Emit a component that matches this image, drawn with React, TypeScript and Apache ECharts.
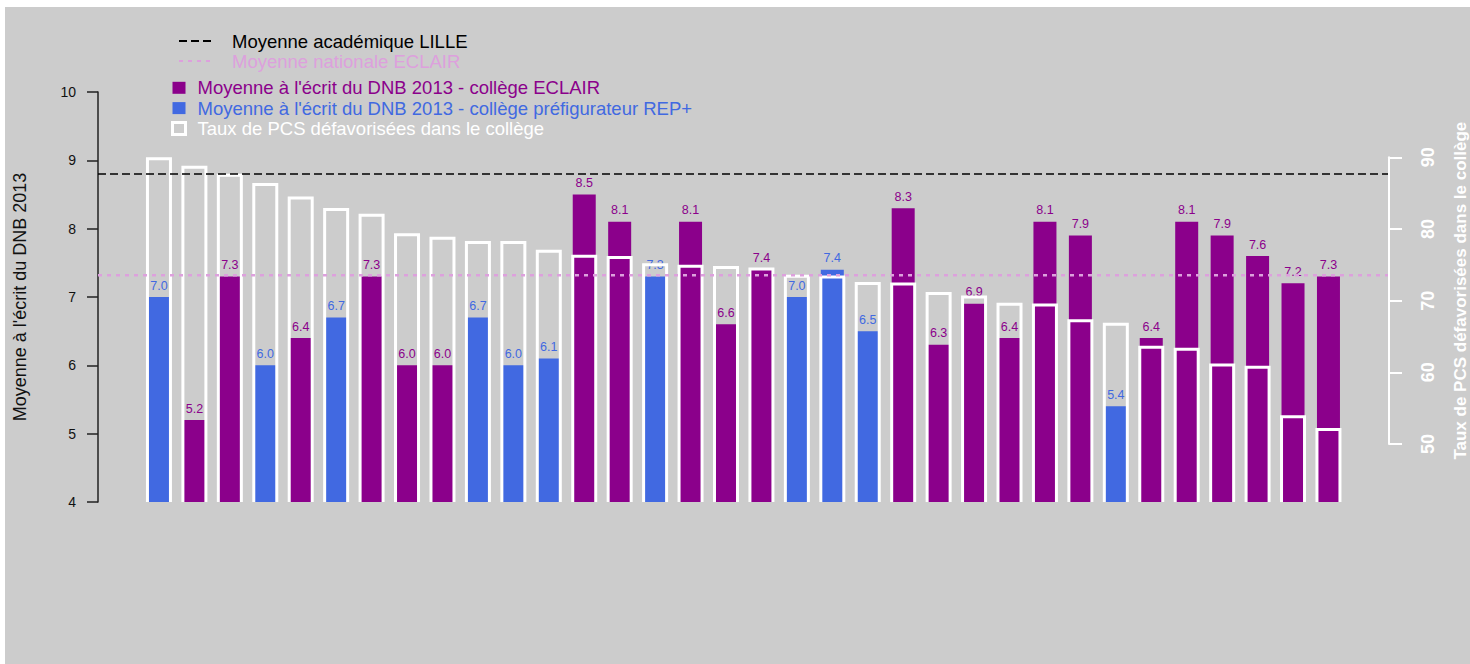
import React, { useEffect, useRef } from 'react';
import * as echarts from 'echarts';

// ---------- data ----------
const dnbScores = [7.0, 5.2, 7.3, 6.0, 6.4, 6.7, 7.3, 6.0, 6.0, 6.7, 6.0, 6.1, 8.5, 8.1, 7.3, 8.1, 6.6, 7.4, 7.0, 7.4, 6.5, 8.3, 6.3, 6.9, 6.4, 8.1, 7.9, 5.4, 6.4, 8.1, 7.9, 7.6, 7.2, 7.3];
const collegeTypes = ['REP+', 'ECLAIR', 'ECLAIR', 'REP+', 'ECLAIR', 'REP+', 'ECLAIR', 'ECLAIR', 'ECLAIR', 'REP+', 'REP+', 'REP+', 'ECLAIR', 'ECLAIR', 'REP+', 'ECLAIR', 'ECLAIR', 'ECLAIR', 'REP+', 'REP+', 'REP+', 'ECLAIR', 'ECLAIR', 'ECLAIR', 'ECLAIR', 'ECLAIR', 'ECLAIR', 'REP+', 'ECLAIR', 'ECLAIR', 'ECLAIR', 'ECLAIR', 'ECLAIR', 'ECLAIR'];
const pcsRates = [89.8, 88.6, 87.5, 86.2, 84.3, 82.7, 81.9, 79.2, 78.7, 78.1, 78.1, 76.9, 76.2, 76.0, 75.0, 74.8, 74.6, 74.4, 73.4, 73.3, 72.4, 72.3, 71.0, 70.5, 69.5, 69.4, 67.2, 66.7, 63.5, 63.2, 61.0, 60.7, 53.8, 52.0];
const moyenneLille = 8.8;
const moyenneNationaleEclair = 7.32;
const leftTicks = [4, 5, 6, 7, 8, 9, 10];
const rightTicks = [50, 60, 70, 80, 90];

const NAME_LILLE = 'Moyenne académique LILLE';
const NAME_NAT = 'Moyenne nationale ECLAIR';
const NAME_ECLAIR = "Moyenne à l'écrit du DNB 2013 - collège ECLAIR";
const NAME_REP = "Moyenne à l'écrit du DNB 2013 - collège préfigurateur REP+";
const NAME_PCS = 'Taux de PCS défavorisées dans le collège';

const PURPLE = '#8B008B';
const BLUE = '#4169E1';
const PLUM = '#DDA0DD';
const FONT = '"Liberation Sans", Arial, Helvetica, sans-serif';

const X_MIN = -0.72;
const X_MAX = 35.68;
const PCS_MIN = 41.9;
const PCS_MAX = 99.1;
const BAR_W = 23;

export default function App() {
  const ref = useRef<HTMLDivElement>(null);

  useEffect(() => {
    if (!ref.current) return;
    const chart = echarts.init(ref.current, null, { renderer: 'svg' });

    const eclairData: number[][] = [];
    const repData: number[][] = [];
    dnbScores.forEach((v, i) => {
      if (collegeTypes[i] === 'REP+') repData.push([i + 1, v]);
      else eclairData.push([i + 1, v]);
    });
    const pcsData = pcsRates.map((v, i) => [i + 1, v]);

    const barLabel = (color: string) => ({
      show: true,
      position: 'top',
      distance: 5,
      color,
      fontSize: 12.5,
      fontFamily: FONT,
      formatter: (p: any) => Number(p.value[1]).toFixed(1),
    });

    const option: any = {
      animation: false,
      backgroundColor: '#CCCCCC',
      textStyle: { fontFamily: FONT },
      grid: [
        { left: 93, right: 82, top: 85, bottom: 162, outerBoundsMode: 'none', containLabel: false },
        { left: 93, right: 81, top: 150.3, bottom: 220, outerBoundsMode: 'none', containLabel: false },
      ],
      legend: [
        {
          orient: 'vertical',
          left: 173,
          top: 24,
          padding: 0,
          itemGap: 0,
          itemWidth: 32,
          itemHeight: 14,
          selectedMode: false,
          textStyle: { fontSize: 18.5, lineHeight: 20, fontFamily: FONT, padding: [0, 0, 0, 16] },
          data: [
            { name: NAME_LILLE, itemStyle: { opacity: 0 }, textStyle: { color: '#000' } },
            { name: NAME_NAT, itemStyle: { opacity: 0 }, textStyle: { color: PLUM } },
          ],
        },
        {
          orient: 'vertical',
          left: 166,
          top: 70.8,
          padding: 0,
          itemGap: 0.3,
          itemWidth: 13,
          itemHeight: 12,
          selectedMode: false,
          textStyle: { fontSize: 18.5, lineHeight: 20, fontFamily: FONT, padding: [0, 0, 0, 7] },
          data: [
            { name: NAME_ECLAIR, icon: 'rect', textStyle: { color: PURPLE } },
            { name: NAME_REP, icon: 'rect', textStyle: { color: BLUE } },
            {
              name: NAME_PCS,
              icon: 'rect',
              itemStyle: { color: 'rgba(0,0,0,0)', borderColor: '#FFFFFF', borderWidth: 3 },
              textStyle: { color: '#FFFFFF' },
            },
          ],
        },
      ],
      xAxis: [
        { type: 'value', gridIndex: 0, min: X_MIN, max: X_MAX, show: false },
        { type: 'value', gridIndex: 1, min: 0, max: 1, show: false },
      ],
      yAxis: [
        {
          type: 'value',
          gridIndex: 0,
          position: 'left',
          min: leftTicks[0],
          max: leftTicks[leftTicks.length - 1],
          interval: 1,
          splitLine: { show: false },
          axisLine: { show: true, onZero: false, lineStyle: { color: '#222', width: 1.5 } },
          axisTick: { show: true, length: 11, lineStyle: { color: '#222', width: 1.5 } },
          axisLabel: { margin: 22, fontSize: 14, color: '#111', fontFamily: FONT },
          name: "Moyenne à l'écrit du DNB 2013",
          nameLocation: 'middle',
          nameRotate: 90,
          nameGap: 69,
          nameTextStyle: { fontSize: 18, color: '#111', fontFamily: FONT },
        },
        {
          type: 'value',
          gridIndex: 0,
          position: 'right',
          min: PCS_MIN,
          max: PCS_MAX,
          show: false,
          splitLine: { show: false },
        },
        {
          type: 'value',
          gridIndex: 1,
          position: 'right',
          min: rightTicks[0],
          max: rightTicks[rightTicks.length - 1],
          interval: 10,
          splitLine: { show: false },
          axisLine: { show: true, onZero: false, lineStyle: { color: '#FFFFFF', width: 2 } },
          axisTick: { show: true, length: 13, lineStyle: { color: '#FFFFFF', width: 2 } },
          axisLabel: { rotate: 90, margin: 30, fontSize: 18, fontWeight: 'bold', color: '#FFFFFF', fontFamily: FONT },
          name: NAME_PCS,
          nameLocation: 'middle',
          nameRotate: 90,
          nameGap: 63,
          nameTextStyle: { fontSize: 17, fontWeight: 'bold', color: '#FFFFFF', fontFamily: FONT, padding: [0, 0, 0, 20] },
        },
      ],
      series: [
        {
          name: NAME_ECLAIR,
          type: 'bar',
          xAxisIndex: 0,
          yAxisIndex: 0,
          data: eclairData,
          barWidth: BAR_W,
          barGap: '-100%',
          itemStyle: { color: PURPLE },
          label: barLabel(PURPLE),
          z: 2,
        },
        {
          name: NAME_REP,
          type: 'bar',
          xAxisIndex: 0,
          yAxisIndex: 0,
          data: repData,
          barWidth: BAR_W,
          barGap: '-100%',
          itemStyle: { color: BLUE },
          label: barLabel(BLUE),
          z: 2,
        },
        {
          name: NAME_PCS,
          type: 'custom',
          xAxisIndex: 0,
          yAxisIndex: 1,
          data: pcsData,
          itemStyle: { color: 'rgba(0,0,0,0)', borderColor: '#FFFFFF', borderWidth: 3 },
          z: 3,
          renderItem: (params: any, api: any) => {
            const x = api.value(0);
            const v = api.value(1);
            const top = api.coord([x, v]);
            const base = api.coord([x, PCS_MIN]);
            const half = BAR_W / 2;
            return {
              type: 'polyline',
              shape: {
                points: [
                  [top[0] - half, base[1]],
                  [top[0] - half, top[1]],
                  [top[0] + half, top[1]],
                  [top[0] + half, base[1]],
                ],
              },
              style: { stroke: '#FFFFFF', lineWidth: 3, fill: null, lineJoin: 'miter' },
            };
          },
        },
        {
          name: NAME_LILLE,
          type: 'line',
          xAxisIndex: 0,
          yAxisIndex: 0,
          data: [[X_MIN, moyenneLille], [X_MAX, moyenneLille]],
          symbol: 'none',
          itemStyle: { color: '#000', opacity: 0 },
          lineStyle: { color: '#000', width: 1.5, type: [8, 4] },
          z: 5,
          silent: true,
        },
        {
          name: NAME_NAT,
          type: 'line',
          xAxisIndex: 0,
          yAxisIndex: 0,
          data: [[X_MIN, moyenneNationaleEclair], [X_MAX, moyenneNationaleEclair]],
          symbol: 'none',
          itemStyle: { color: PLUM, opacity: 0 },
          lineStyle: { color: PLUM, width: 2.5, type: [4, 5] },
          z: 5,
          silent: true,
        },
      ],
    };

    chart.setOption(option);
    return () => chart.dispose();
  }, []);

  return (
    <div style={{ position: 'absolute', left: 0, top: 0, width: 1470, height: 664, background: '#FFFFFF' }}>
      <div ref={ref} style={{ position: 'absolute', left: 5, top: 7, width: 1465, height: 657 }} />
    </div>
  );
}
